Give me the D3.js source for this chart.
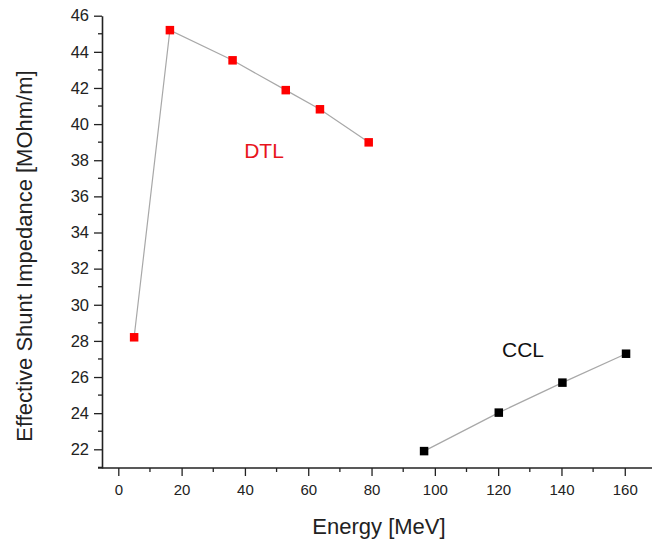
<!DOCTYPE html>
<html><head><meta charset="utf-8">
<script src="https://cdn.jsdelivr.net/npm/d3@7"></script>
<style>body{margin:0;background:#fff}svg{display:block}</style>
</head><body>
<svg id="c" width="652" height="540"></svg>
<script>
const dtlEnergy = [5, 16.3, 36.1, 52.9, 63.7, 79.1];
const dtlZsh = [28.2, 45.2, 43.53, 41.88, 40.82, 38.99];
const cclEnergy = [96.6, 120.2, 140.3, 160.4];
const cclZsh = [21.9, 24.03, 25.69, 27.29];
const xTicks = [0, 20, 40, 60, 80, 100, 120, 140, 160];
const yTicks = [22, 24, 26, 28, 30, 32, 34, 36, 38, 40, 42, 44, 46];
const xTitle = "Energy [MeV]";
const yTitle = "Effective Shunt Impedance [MOhm/m]";

const svg = d3.select("#c");
const font = "'Liberation Sans', Arial, sans-serif";
const x = d3.scaleLinear().domain([-5.15, 168.6]).range([102, 652]);
const y = d3.scaleLinear().domain([20.965, 46]).range([468, 15.7]);
const axisColor = "#222";

// minor ticks
const xMinor = d3.range(10, 170, 20);
const yMinor = d3.range(21, 46, 2);
svg.append("g").selectAll("line").data(xMinor).join("line")
  .attr("x1", d => x(d)).attr("x2", d => x(d)).attr("y1", 468).attr("y2", 472)
  .attr("stroke", axisColor).attr("stroke-width", 1.3);
svg.append("g").selectAll("line").data(yMinor).join("line")
  .attr("y1", d => y(d)).attr("y2", d => y(d)).attr("x1", 102).attr("x2", 98)
  .attr("stroke", axisColor).attr("stroke-width", 1.3);

const xAxis = svg.append("g").attr("transform", "translate(0,468)")
  .call(d3.axisBottom(x).tickValues(xTicks).tickSize(8).tickPadding(8).tickSizeOuter(0));
const yAxis = svg.append("g").attr("transform", "translate(102,0)")
  .call(d3.axisLeft(y).tickValues(yTicks).tickSize(8).tickPadding(5).tickSizeOuter(0));
[xAxis, yAxis].forEach(a => {
  a.select(".domain").attr("stroke", axisColor).attr("stroke-width", 1.6);
  a.selectAll(".tick line").attr("stroke", axisColor).attr("stroke-width", 1.3);
  a.selectAll("text").attr("fill", "#222").style("font-family", font);
});
xAxis.selectAll("text").style("font-size", "15px");
yAxis.selectAll("text").style("font-size", "16.5px");
xAxis.select(".domain").attr("d", "M98,0H652");

// lines
const line = d3.line().x(d => x(d[0])).y(d => y(d[1]));
const dtl = dtlEnergy.map((e, i) => [e, dtlZsh[i]]);
const ccl = cclEnergy.map((e, i) => [e, cclZsh[i]]);
[dtl, ccl].forEach(s => svg.append("path").datum(s).attr("d", line)
  .attr("fill", "none").attr("stroke", "#a8a8a8").attr("stroke-width", 1.2));

const ms = 8.5;
svg.append("g").selectAll("rect").data(dtl).join("rect")
  .attr("x", d => x(d[0]) - ms / 2).attr("y", d => y(d[1]) - ms / 2)
  .attr("width", ms).attr("height", ms).attr("fill", "#f00");
svg.append("g").selectAll("rect").data(ccl).join("rect")
  .attr("x", d => x(d[0]) - ms / 2).attr("y", d => y(d[1]) - ms / 2)
  .attr("width", ms).attr("height", ms).attr("fill", "#000");

svg.append("text").attr("x", 264).attr("y", 158).attr("text-anchor", "middle")
  .style("font-family", font).style("font-size", "21px").attr("fill", "#e8141c").text("DTL");
svg.append("text").attr("x", 523).attr("y", 357).attr("text-anchor", "middle")
  .style("font-family", font).style("font-size", "21px").attr("fill", "#111").text("CCL");

svg.append("text").attr("x", 379).attr("y", 534).attr("text-anchor", "middle")
  .style("font-family", font).style("font-size", "22px").attr("fill", "#222").text(xTitle);
svg.append("text").attr("transform", "translate(32,256) rotate(-90)").attr("text-anchor", "middle")
  .style("font-family", font).style("font-size", "22px").attr("fill", "#222").text(yTitle);
</script>
</body></html>
